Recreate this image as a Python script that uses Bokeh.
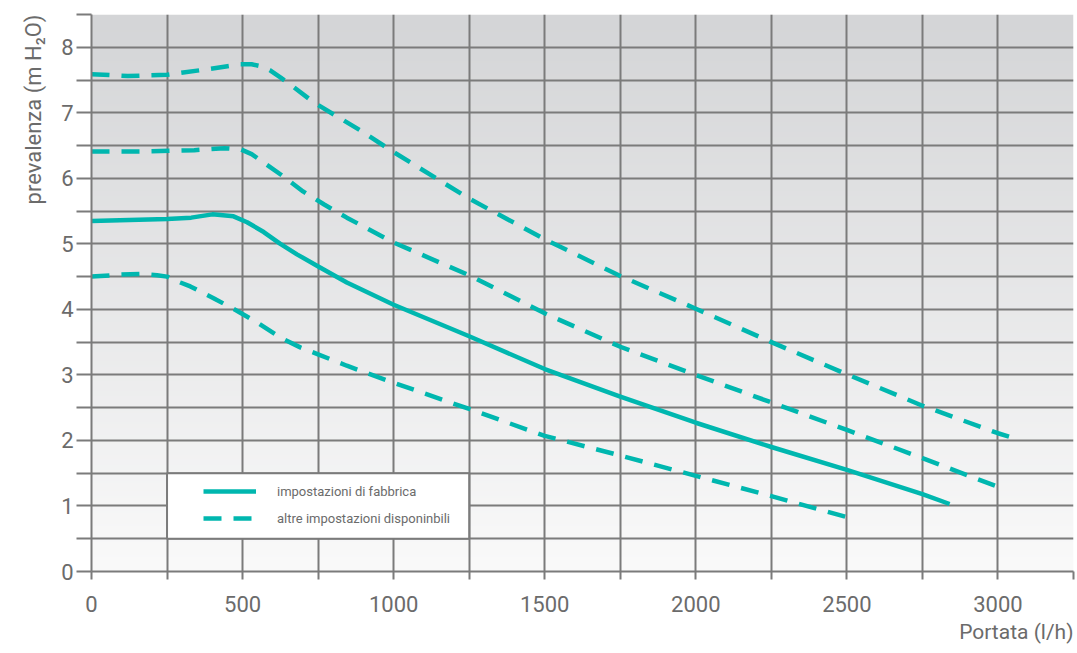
import numpy as np
from bokeh.plotting import figure
from bokeh.models import FixedTicker, Legend, LegendItem, Title
from bokeh.embed import file_html
from bokeh.resources import INLINE

# ---- data ----
x_major = [0, 500, 1000, 1500, 2000, 2500, 3000]
x_minor = [250, 750, 1250, 1750, 2250, 2750, 3250]
y_major = [0, 1, 2, 3, 4, 5, 6, 7, 8]
y_minor = [0.5, 1.5, 2.5, 3.5, 4.5, 5.5, 6.5, 7.5, 8.5]

# altre impostazioni (highest curve)
a_x = [0, 120, 250, 360, 450, 493, 530, 560, 590, 625, 670, 735, 890, 1000, 1250, 1500, 1750, 2000, 2250, 2500, 2750, 3000, 3050]
a_y = [7.59, 7.56, 7.58, 7.65, 7.71, 7.74, 7.74, 7.71, 7.65, 7.54, 7.39, 7.16, 6.73, 6.40, 5.69, 5.07, 4.51, 4.01, 3.50, 3.01, 2.53, 2.11, 2.04]
# altre impostazioni (second curve)
b_x = [0, 170, 340, 440, 495, 530, 570, 638, 700, 770, 845, 1000, 1250, 1500, 1750, 2000, 2250, 2500, 2750, 2990]
b_y = [6.41, 6.41, 6.43, 6.46, 6.44, 6.37, 6.24, 6.02, 5.80, 5.60, 5.40, 5.02, 4.52, 3.94, 3.43, 3.00, 2.58, 2.16, 1.73, 1.31]
# impostazioni di fabbrica
c_x = [0, 250, 330, 400, 470, 515, 570, 625, 680, 752, 845, 1000, 1250, 1500, 1750, 2000, 2250, 2500, 2750, 2840]
c_y = [5.35, 5.38, 5.40, 5.45, 5.42, 5.33, 5.18, 5.00, 4.84, 4.65, 4.41, 4.07, 3.59, 3.09, 2.67, 2.27, 1.90, 1.55, 1.18, 1.03]
# altre impostazioni (lowest curve)
d_x = [0, 96, 162, 217, 250, 294, 327, 404, 481, 548, 625, 691, 752, 845, 1000, 1250, 1500, 1750, 2000, 2250, 2500]
d_y = [4.50, 4.53, 4.54, 4.52, 4.50, 4.41, 4.35, 4.17, 3.98, 3.80, 3.57, 3.42, 3.31, 3.14, 2.88, 2.48, 2.07, 1.77, 1.46, 1.15, 0.83]

legend_labels = ["impostazioni di fabbrica", "altre impostazioni disponinbili"]
x_title = "Portata (l/h)"
y_title = "prevalenza (m H\u2082O)"

# ---- styling ----
TEAL = "#00b7af"
GRID = "#7b7b7b"
TXT = "#6b6b6b"
FONT = "Roboto"
DASH = "18 12"
LW = 4.5

p = figure(width=1075, height=653, x_range=(0, 3250), y_range=(0, 8.5),
           output_backend="svg", toolbar_location=None,
           min_border_left=91, min_border_right=2, min_border_top=14, min_border_bottom=82)
p.outline_line_color = None
p.background_fill_color = "white"
p.border_fill_color = "white"

# vertical gradient background
n = 256
t = np.linspace(0.0, 1.0, n)
c_top = np.array([212, 213, 215], dtype=float)
c_bot = np.array([250, 250, 250], dtype=float)
rgb = c_bot + (c_top - c_bot) * t[:, None]
img = np.zeros((n, 1), dtype=np.uint32)
view = img.view(dtype=np.uint8).reshape((n, 1, 4))
view[:, 0, 0:3] = rgb.astype(np.uint8)
view[:, 0, 3] = 255
p.image_rgba(image=[img], x=0, y=0, dw=3250, dh=8.5, level="image")

# axes / ticks / grid
p.xaxis.ticker = FixedTicker(ticks=x_major, minor_ticks=x_minor)
p.yaxis.ticker = FixedTicker(ticks=y_major, minor_ticks=y_minor)
for ax in (p.xaxis[0], p.yaxis[0]):
    ax.axis_line_color = GRID
    ax.axis_line_width = 2
    ax.major_tick_line_color = GRID
    ax.major_tick_line_width = 2
    ax.minor_tick_line_color = GRID
    ax.minor_tick_line_width = 2
    ax.major_tick_in = 0
    ax.minor_tick_in = 0
    ax.major_label_text_font = FONT
    ax.major_label_text_font_size = "22px"
    ax.major_label_text_color = TXT
p.xaxis.major_tick_out = 8
p.xaxis.minor_tick_out = 8
p.xaxis.major_label_standoff = 16
p.yaxis.major_tick_out = 15
p.yaxis.minor_tick_out = 15
p.yaxis.major_label_standoff = 3

for g in (p.xgrid[0], p.ygrid[0]):
    g.grid_line_color = GRID
    g.grid_line_width = 2
    g.minor_grid_line_color = GRID
    g.minor_grid_line_width = 2

# legend box (white cell)
p.quad(left=250, right=1250, bottom=0.5, top=1.5, fill_color="white",
       line_color=GRID, line_width=2)

# curves
ra = p.line(a_x, a_y, line_color=TEAL, line_width=LW, line_dash=DASH, line_join="round")
rb = p.line(b_x, b_y, line_color=TEAL, line_width=LW, line_dash=DASH, line_join="round")
rc = p.line(c_x, c_y, line_color=TEAL, line_width=LW, line_join="round")
rd = p.line(d_x, d_y, line_color=TEAL, line_width=LW, line_dash=DASH, line_join="round")

legend = Legend(items=[LegendItem(label=legend_labels[0], renderers=[rc]),
                       LegendItem(label=legend_labels[1], renderers=[rd])],
                location=(112, 43), padding=0, margin=0, spacing=7,
                glyph_width=53, glyph_height=20, label_height=20,
                label_standoff=21, label_text_font=FONT,
                label_text_font_size="13px", label_text_color=TXT,
                background_fill_alpha=0, border_line_alpha=0)
p.add_layout(legend)

xt = Title(text=x_title, align="right", text_font=FONT,
           text_font_size="21px", text_font_style="normal", text_color=TXT,
           standoff=6)
p.add_layout(xt, "below")

yt = Title(text=y_title, align="right", vertical_align="top",
           text_font=FONT, text_font_size="22px", text_font_style="normal",
           text_color=TXT, standoff=22)
p.add_layout(yt, "left")

open("out.html", "w").write(file_html(p, INLINE))
